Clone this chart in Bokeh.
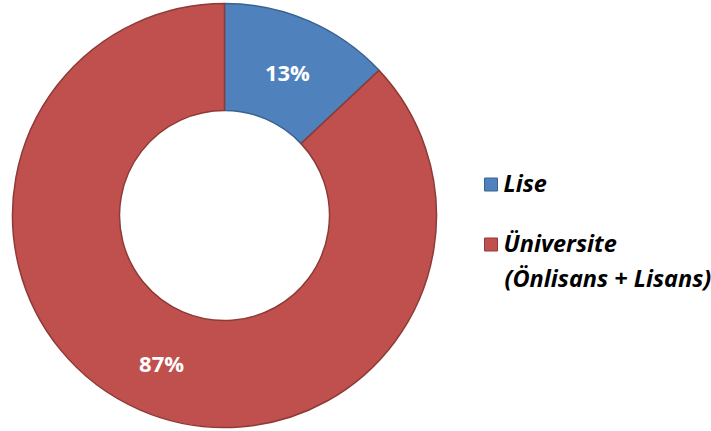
import math
from bokeh.plotting import figure
from bokeh.models import ColumnDataSource, Range1d
from bokeh.core.properties import value
from bokeh.embed import file_html
from bokeh.resources import INLINE

categories = ["Lise", "Üniversite"]
legend_lines = [["Lise"], ["Üniversite", "(Önlisans + Lisans)"]]
values = [13, 87]
fill_colors = ["#4F81BD", "#C0504D"]
line_colors = ["#3A6290", "#8E3B38"]

W, H = 711, 431
cx, cy = 224, H - 215
r_in, r_out = 105, 212

total = sum(values)
starts, ends, labels, lx, ly = [], [], [], [], []
cum = 0.0
for v in values:
    a0 = math.pi / 2 - 2 * math.pi * cum / total
    cum += v
    a1 = math.pi / 2 - 2 * math.pi * cum / total
    starts.append(a1)
    ends.append(a0)
    mid = (a0 + a1) / 2
    rm = (r_in + r_out) / 2
    lx.append(cx + rm * math.cos(mid))
    ly.append(cy + rm * math.sin(mid) - 2)
    labels.append(f"{round(100 * v / total)}%")

p = figure(width=W, height=H, output_backend="svg", toolbar_location=None,
           x_range=Range1d(0, W), y_range=Range1d(0, H), min_border=0)
p.axis.visible = False
p.grid.visible = False
p.outline_line_color = None
p.background_fill_color = "white"
p.border_fill_color = "white"

src = ColumnDataSource(dict(start=starts, end=ends, fill=fill_colors, line=line_colors))
p.annular_wedge(x=cx, y=cy, inner_radius=r_in, outer_radius=r_out,
                inner_radius_units="data", outer_radius_units="data",
                start_angle="start", end_angle="end", direction="anticlock",
                fill_color="fill", line_color="line", line_width=1.5, source=src)

p.text(x=lx, y=ly, text=labels, text_color="white", text_font=value("Open Sans"),
       text_font_style="bold", text_font_size="22px", text_align="center",
       text_baseline="middle")

# legend
sq_x = 490.5
leg_y = [H - 184, H - 244]
p.rect(x=[sq_x] * 2, y=leg_y, width=13, height=13, fill_color=fill_colors,
       line_color=line_colors, line_width=1)
tx, ty, tt = [], [], []
for i, lines in enumerate(legend_lines):
    for j, t in enumerate(lines):
        tx.append(503 if j == 0 else 504)
        ty.append(leg_y[i] + 1.5 - 35 * j)
        tt.append(t)
p.text(x=tx, y=ty, text=tt, text_color="black", text_font=value("Open Sans"),
       text_font_style="bold italic", text_font_size="23.5px", text_align="left",
       text_baseline="middle")

open("out.html", "w").write(file_html(p, INLINE))
